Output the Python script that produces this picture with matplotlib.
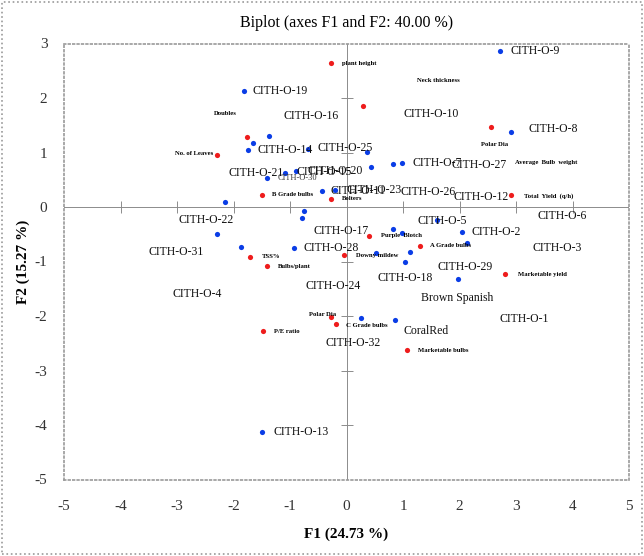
import numpy as np
import matplotlib
matplotlib.use("Agg")
import matplotlib.pyplot as plt
from matplotlib.patches import Rectangle

plt.rcParams['font.family'] = ['Liberation Serif', 'DejaVu Serif']
plt.rcParams['axes.unicode_minus'] = False

# observations (blue)
obs_x = [2.71, -1.82, 2.92, -1.37, -1.65, -1.74, -0.675, 0.356, 0.82, 0.99,
         0.43, -1.08, -0.885, -1.40, -0.44, -0.21, -2.15, -0.76, -0.78, -2.30,
         -1.865, -0.93, 0.82, 0.99, 1.60, 2.04, 2.14, 0.52, 1.13, 1.03,
         1.98, 0.26, 0.85, -1.49]
obs_y = [2.87, 2.12, 1.385, 1.31, 1.18, 1.05, 1.07, 1.01, 0.79, 0.80,
         0.74, 0.63, 0.66, 0.53, 0.29, 0.32, 0.10, -0.065, -0.20, -0.49,
         -0.73, -0.75, -0.40, -0.48, -0.23, -0.46, -0.66, -0.85, -0.83, -1.01,
         -1.33, -2.03, -2.08, -4.12]

# observation labels (placed where the original tool put them)
obs_names = ['CITH-O-9', 'CITH-O-19', 'CITH-O-16', 'CITH-O-10', 'CITH-O-8',
             'CITH-O-14', 'CITH-O-25', 'CITH-O-7', 'CITH-O-27', 'CITH-O-21',
             'CITH-O-15', 'CITH-O-20', 'CITH-O-11', 'CITH-O-23',
             'CITH-O-26', 'CITH-O-12', 'CITH-O-22', 'CITH-O-6', 'CITH-O-5',
             'CITH-O-2', 'CITH-O-17', 'CITH-O-28', 'CITH-O-31', 'CITH-O-3',
             'CITH-O-29', 'CITH-O-18', 'CITH-O-24', 'Brown Spanish', 'CITH-O-4',
             'CITH-O-1', 'CoralRed', 'CITH-O-32', 'CITH-O-13']
obs_lx = [2.895, -1.662, -1.110, 1.009, 3.229, -1.568, -0.508, 1.168, 1.858, -2.097,
          -0.885, -0.682, -0.276, -0.007, 0.951, 1.886, -2.975, 3.381, 1.248,
          2.221, -0.581, -0.762, -3.498, 3.294, 1.619, 0.544, -0.733, 1.321, -3.077,
          2.700, 1.009, -0.370, -1.299]
obs_ly = [2.855, 2.120, 1.671, 1.710, 1.424, 1.041, 1.080, 0.800, 0.774, 0.624,
          0.637, 0.657, 0.286, 0.306, 0.273, 0.182, -0.234, -0.169, -0.260,
          -0.462, -0.442, -0.754, -0.826, -0.754, -1.106, -1.307, -1.450, -1.678, -1.600,
          -2.056, -2.277, -2.490, -4.124]
small_name, small_lx, small_ly = 'CITH-O-30', -1.226, 0.527

# variables (red)
var_x = [-0.28, 0.29, 2.56, -1.76, -2.30, 2.91, -1.50, -0.28, 0.40, 1.30,
         -0.04, -1.70, -1.41, 2.80, -0.27, -0.19, -1.48, 1.07]
var_y = [2.65, 1.86, 1.47, 1.29, 0.96, 0.22, 0.22, 0.15, -0.53, -0.71,
         -0.88, -0.91, -1.08, -1.23, -2.01, -2.14, -2.28, -2.63]

var_names = ['plant height', 'Neck thickness', 'Polar Dia', 'Doubles', 'No. of Leaves',
             'Average  Bulb  weight', 'Total  Yield  (q/h)', 'B Grade bulbs', 'Bolters',
             'Purple  Blotch', 'A Grade bulbs', 'Downy mildew', 'TSS%', 'Bulbs/plant',
             'Marketable yield', 'Polar Dia', 'C Grade bulbs', 'P/E ratio',
             'Marketable bulbs']
var_lx = [-0.08, 1.241, 2.380, -2.351, -3.041, 2.983, 3.149, -1.313, -0.080, 0.610,
          1.480, 0.174, -1.495, -1.212, 3.041, -0.668, -0.007, -1.284, 1.263]
var_ly = [2.628, 2.315, 1.145, 1.717, 0.982, 0.813, 0.202, 0.221, 0.150, -0.527,
          -0.709, -0.898, -0.911, -1.093, -1.242, -1.964, -2.166, -2.276, -2.641]

fig = plt.figure(figsize=(6.44, 5.56), dpi=100)
ax = fig.add_axes([64/644, 1-479.5/556, (629-64)/644, (479.5-43.5)/556])

ax.set_xlim(-5, 5)
ax.set_ylim(-5, 3)

# zero axes with cross ticks
ax.axhline(0, color='#8c8c8c', lw=0.7, zorder=1)
ax.axvline(0, color='#8c8c8c', lw=0.7, zorder=1)
xt = [-4, -3, -2, -1, 1, 2, 3, 4]
yt = [2, 1, -1, -2, -3, -4]
ax.plot(xt, np.zeros(len(xt)), ls='none', marker='|', ms=8, mew=0.7, color='#8c8c8c', zorder=1)
ax.plot(np.zeros(len(yt)), yt, ls='none', marker='_', ms=8, mew=0.7, color='#8c8c8c', zorder=1)

ax.scatter(obs_x, obs_y, s=14, color='#0a3de6', zorder=3, linewidths=0)
ax.scatter(var_x, var_y, s=14, color='#ee1c1c', zorder=3, linewidths=0)

for n, x, y in zip(obs_names, obs_lx, obs_ly):
    ax.text(x, y, n, fontsize=8.5, ha='left', va='center', color='#111111', zorder=4)
ax.text(small_lx, small_ly, small_name, fontsize=6, ha='left', va='center', color='#333333', zorder=4)
for n, x, y in zip(var_names, var_lx, var_ly):
    ax.text(x, y, n, fontsize=4.8, ha='left', va='center', color='black', fontweight='bold', zorder=4)

ax.set_xticks(range(-5, 6))
ax.set_yticks(range(-5, 4))
ax.tick_params(length=0, labelsize=11, labelcolor='#333333')
ax.tick_params(axis='x', pad=15)
ax.tick_params(axis='y', pad=12)
for s in ax.spines.values():
    s.set_linestyle(':')
    s.set_color('#999999')
    s.set_linewidth(1.2)

ax.set_xlabel('F1 (24.73 %)', fontsize=11, fontweight='bold', labelpad=10)
ax.set_ylabel('F2 (15.27 %)', fontsize=11, fontweight='bold', labelpad=3)
ax.set_title('Biplot (axes F1 and F2: 40.00 %)', fontsize=11.5, pad=12)

fig.patches.append(Rectangle((0.003, 0.004), 0.994, 0.992, transform=fig.transFigure,
                             fill=False, ls=':', lw=1.2, ec='#999999'))

fig.savefig('out.png', dpi=100)
